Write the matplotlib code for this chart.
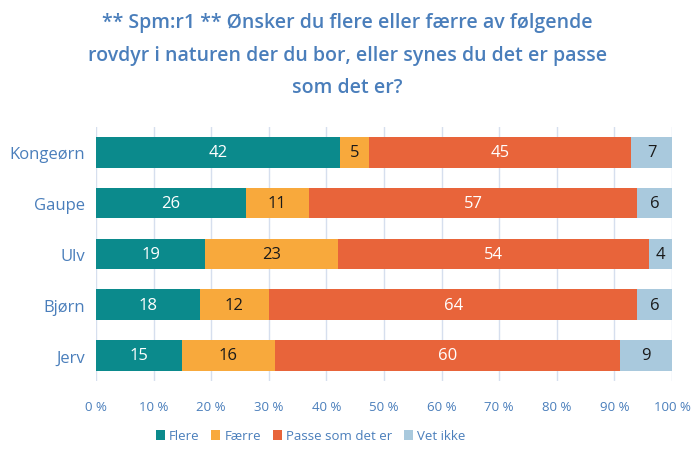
import matplotlib.pyplot as plt
import numpy as np

categories = ["Kongeørn", "Gaupe", "Ulv", "Bjørn", "Jerv"]
series_names = ["Flere", "Færre", "Passe som det er", "Vet ikke"]
flere = [42, 26, 19, 18, 15]
faerre = [5, 11, 23, 12, 16]
passe = [45, 57, 54, 64, 60]
vet_ikke = [7, 6, 4, 6, 9]
colors = ["#0b8a8c", "#f8a93c", "#e8643a", "#a9c9dd"]
label_colors = ["white", "#1a1a1a", "white", "#1a1a1a"]
title = "** Spm:r1 ** Ønsker du flere eller færre av følgende\nrovdyr i naturen der du bor, eller synes du det er passe\nsom det er?"

plt.rcParams['font.family'] = ['Open Sans', 'DejaVu Sans']

fig = plt.figure(figsize=(6.95, 4.6), dpi=100)
ax = fig.add_axes([0.138, 0.170, 0.829, 0.552])

data = np.array([flere, faerre, passe, vet_ikke], dtype=float)
totals = data.sum(axis=0)
shares = data / totals * 100
y = np.arange(len(categories))
left = np.zeros(len(categories))
for i, name in enumerate(series_names):
    ax.barh(y, shares[i], left=left, height=0.6, color=colors[i], label=name, zorder=3)
    for j in range(len(categories)):
        ax.text(left[j] + shares[i][j] / 2, y[j], str(int(data[i][j])),
                ha='center', va='center', color=label_colors[i], fontsize=12, zorder=4)
    left += shares[i]

ax.set_xlim(0, 100)
ax.set_ylim(len(categories) - 0.5, -0.5)
ax.set_yticks(y)
ax.set_yticklabels(categories, fontsize=12, color="#4a7ebb")
ax.set_xticks(np.arange(0, 101, 10))
ax.set_xticklabels([f"{v} %" for v in range(0, 101, 10)], fontsize=9.5, color="#4a7ebb")
ax.tick_params(axis='y', length=0, pad=8)
ax.tick_params(axis='x', length=0, pad=14)
ax.grid(axis='x', color="#d6dfee", linewidth=1, zorder=0)
for s in ax.spines.values():
    s.set_visible(False)

fig.text(0.5, 0.972, title, ha='center', va='top', fontsize=14, fontweight='semibold',
         color="#4a7ebb", linespacing=1.85)

leg = fig.legend(loc='center', bbox_to_anchor=(0.447, 0.05), ncol=4, frameon=False,
                 fontsize=9.5, handlelength=0.7, handleheight=0.7, handletextpad=0.3,
                 columnspacing=0.9)
for t in leg.get_texts():
    t.set_color("#4a7ebb")

fig.savefig("out.png", dpi=100)
